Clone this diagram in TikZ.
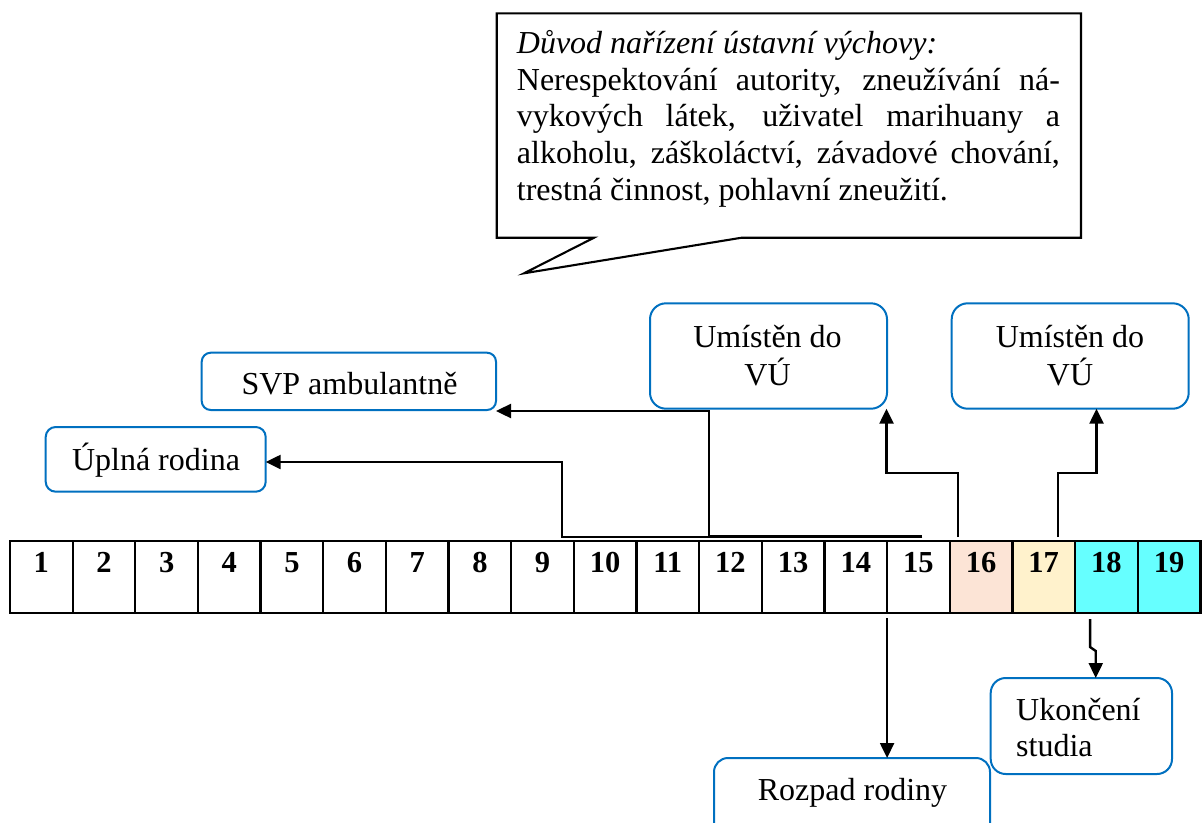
\documentclass[tikz,border=0pt]{standalone}
\usepackage{fontspec}
\setmainfont{Liberation Serif}
\usetikzlibrary{arrows.meta,calc}
\definecolor{boxblue}{RGB}{0,112,192}
\definecolor{peach}{RGB}{252,228,214}
\definecolor{cream}{RGB}{255,242,204}
\definecolor{aqua}{RGB}{102,255,255}

\begin{document}
\begin{tikzpicture}[x=1pt,y=-1pt,
  cellbox/.style={draw=black, line width=2.3pt, minimum width=62.65pt,
    minimum height=72.6pt, inner sep=0pt, outer sep=0pt},
  num/.style={font=\fontsize{30.5}{36}\selectfont\bfseries, inner sep=0pt},
  rbox/.style={draw=boxblue, line width=2pt, fill=white, inner sep=0pt, outer sep=0pt},
  lbl/.style={font=\fontsize{32}{36}\selectfont, inner sep=0pt},
  conn/.style={line width=2.4pt, -{Triangle[length=15pt,width=14pt]}},
  callout/.style={draw=black, line width=2.1pt, fill=white}
]
\useasboundingbox (0,0) rectangle (1202,822);
\clip (0,0) rectangle (1202,822);
\fill[white] (0,0) rectangle (1202,822);

% age scale
\foreach \i/\col in {1/white,2/white,3/white,4/white,5/white,6/white,7/white,
  8/white,9/white,10/white,11/white,12/white,13/white,14/white,15/white,
  16/peach,17/cream,18/aqua,19/aqua}{
  \pgfmathsetmacro\cx{10+(\i-0.5)*62.65}
  \node[cellbox, fill=\col] (c\i) at (\cx,577) {};
  \node[num, anchor=base] (n\i) at (\cx,572) {\i};
}

% speech bubble with the reason
\draw[callout] (496.7,13.3) -- (1081,13.3) -- (1081,237.7) -- (741.7,237.7)
  -- (524,273.3) -- (594,237.7) -- (496.7,237.7) -- cycle;
\node[anchor=base west, inner sep=0pt] (why) at (516.7,53.3) {\parbox[t]{543pt}{%
  \fontsize{32}{36.7}\selectfont\raggedright
  \textit{Důvod nařízení ústavní výchovy:}\\
  \makebox[543pt][s]{Nerespektování autority, zneužívání ná-}\\
  \makebox[543pt][s]{vykových látek, uživatel marihuany a}\\
  \makebox[543pt][s]{alkoholu, záškoláctví, závadové chování,}\\
  trestná činnost, pohlavní zneužití.}};

% event boxes
\node[rbox, rounded corners=10pt, minimum width=220pt, minimum height=64.7pt] (upl) at (155.7,459.35) {};
\node[rbox, rounded corners=9pt, minimum width=294.3pt, minimum height=57.3pt] (svp) at (348.85,381.35) {};
\node[rbox, rounded corners=16pt, minimum width=237pt, minimum height=105.4pt] (vu1) at (768.5,356) {};
\node[rbox, rounded corners=16pt, minimum width=237pt, minimum height=105.4pt] (vu2) at (1070.2,356) {};
\node[rbox, rounded corners=14pt, minimum width=276pt, minimum height=92pt] (roz) at (852,804) {};
\node[rbox, rounded corners=15pt, minimum width=181.3pt, minimum height=96pt] (uko) at (1081.35,726) {};

% labels
\node[lbl, anchor=base] (tupl) at (156,470) {Úplná rodina};
\node[lbl, anchor=base] (tsvp) at (349.5,394.3) {SVP ambulantně};
\node[lbl, anchor=base] (tvu1) at (767.5,347.7) {\fontsize{32}{34.6}\selectfont
  \begin{tabular}[t]{@{}c@{}}Umístěn do\\VÚ\end{tabular}};
\node[lbl, anchor=base] (tvu2) at (1070,347.7) {\fontsize{32}{34.6}\selectfont
  \begin{tabular}[t]{@{}c@{}}Umístěn do\\VÚ\end{tabular}};
\node[lbl, anchor=base] (troz) at (852.5,800) {Rozpad rodiny};
\node[lbl, anchor=base west] (tuko) at (1016,720.7) {\fontsize{32}{36}\selectfont
  \begin{tabular}[t]{@{}l@{}}Ukončení\\studia\end{tabular}};

% connectors above the scale
\coordinate (kU) at (562,462);
\coordinate (kS) at (709,411);
\coordinate (kV1) at (886.5,473);
\coordinate (kV2) at (1096.5,473);
\draw[conn] ([xshift=2pt,yshift=3.7pt]c14.north) -| (kU) -- (kU -| upl.east);
\draw[conn] ([xshift=4pt,yshift=4.2pt]c15.north) -| (kS) -- (kS -| svp.east);
\draw[conn] ([xshift=8.2pt,yshift=3.7pt]c16.north west) |- (kV1) -- (kV1 |- vu1.south);
\draw[conn] ([xshift=14.3pt,yshift=3.7pt]c17.north) |- (kV2) -- (kV2 |- vu2.south);

% connectors below the scale
\coordinate (sR) at ([yshift=-5pt]c15.south west);
\draw[conn] (sR) -- (sR |- roz.north);
\coordinate (sK) at ([xshift=15pt,yshift=-5.7pt]c18.south west);
\draw[conn] (sK) -- ++(0,28) -- ++(5.7,4) coordinate (tK) -- (tK |- uko.north);
\end{tikzpicture}
\end{document}
